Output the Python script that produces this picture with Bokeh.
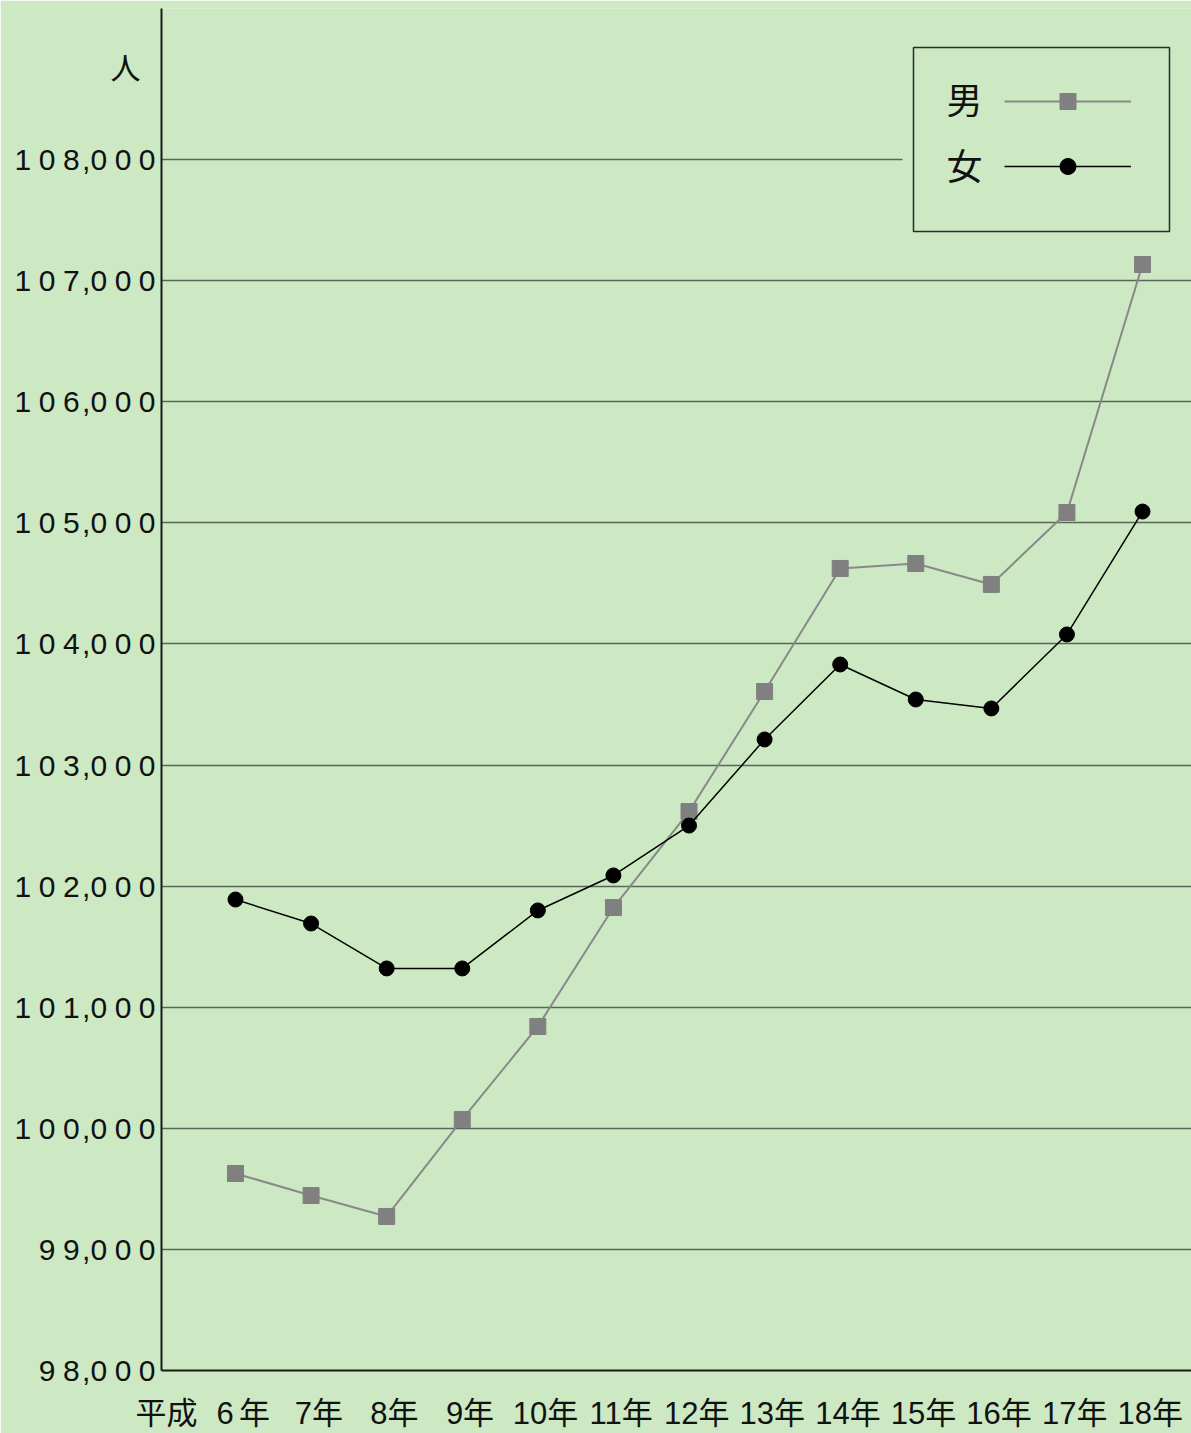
from bokeh.plotting import figure
from bokeh.models import Range1d, FixedTicker, Label, BoxAnnotation, Legend, LegendItem
from bokeh.embed import file_html
from bokeh.resources import INLINE

# ---- data ----
years = [6, 7, 8, 9, 10, 11, 12, 13, 14, 15, 16, 17, 18]
year_labels = ["6 年", "7年", "8年", "9年", "10年", "11年", "12年",
               "13年", "14年", "15年", "16年", "17年", "18年"]
era_label = "平成"
male = [99627, 99445, 99272, 100073, 100841, 101823, 102616,
        103607, 104623, 104664, 104491, 105085, 107133]
female = [101889, 101691, 101320, 101320, 101799, 102088, 102500,
          103211, 103830, 103541, 103467, 104078, 105093]
y_ticks = [98000, 99000, 100000, 101000, 102000, 103000, 104000,
           105000, 106000, 107000, 108000]
y_tick_labels = ["98,000", "99,000", "100,000", "101,000", "102,000", "103,000",
                 "104,000", "105,000", "106,000", "107,000", "108,000"]
unit_label = "人"
series_names = ["男", "女"]

# positions of the unit / era captions (axis coordinates)
UNIT_POS = 108752
ERA_POS = 5.087

BG = "#cce9c4"
NUM_FONT = "'Liberation Sans', 'Noto Sans CJK JP'"
CJK = "'Noto Sans CJK JP'"


def spaced_num(s):
    out = ""
    for i, ch in enumerate(s):
        out += ch
        if i < len(s) - 1:
            nxt = s[i + 1]
            if nxt == ",":
                out += "\u200a"
            elif ch != ",":
                out += "\u2005"
    return out


def spaced_year(s):
    return "\u2002" + s.replace(" ", "\u2006")


W, H = 1191, 1433
p = figure(width=W, height=H, output_backend="svg", toolbar_location=None,
           x_range=Range1d(5.021, 18.648), y_range=Range1d(98000, 109247),
           min_border_left=161, min_border_right=0, min_border_top=8,
           min_border_bottom=63)
p.background_fill_color = BG
p.border_fill_color = BG
p.outline_line_color = None

# axes
y_over = {v: spaced_num(t) for v, t in zip(y_ticks, y_tick_labels)}
y_over[UNIT_POS] = unit_label + "\u2005\u2005"
p.yaxis.ticker = FixedTicker(ticks=y_ticks + [UNIT_POS])
p.yaxis.major_label_overrides = y_over
x_over = {v: spaced_year(t) for v, t in zip(years, year_labels)}
x_over[ERA_POS] = era_label
p.xaxis.ticker = FixedTicker(ticks=[ERA_POS] + years)
p.xaxis.major_label_overrides = x_over
for ax in (p.xaxis, p.yaxis):
    ax.major_tick_out = 0
    ax.major_tick_in = 0
    ax.minor_tick_out = 0
    ax.minor_tick_in = 0
    ax.axis_line_color = "#1a1a1a"
    ax.axis_line_width = 2
    ax.major_label_text_color = "#111111"
    ax.major_label_text_font = NUM_FONT
p.yaxis.major_label_text_font_size = "30px"
p.yaxis.major_label_standoff = 6
p.xaxis.major_label_text_font_size = "31px"
p.xaxis.major_label_standoff = 25

p.xgrid.visible = False
p.ygrid.ticker = FixedTicker(ticks=y_ticks)
p.ygrid.grid_line_color = "#5a6658"
p.ygrid.grid_line_width = 1.3

# series
r_ml = p.line(years, male, line_color="#888888", line_width=2)
r_ms = p.scatter(years, male, marker="square", size=16, fill_color="#808080",
                 line_color="#808080")
r_fl = p.line(years, female, line_color="#000000", line_width=1.5)
r_fs = p.scatter(years, female, marker="circle", size=15, fill_color="#000000",
                 line_color="#000000")

# legend box
cover = BoxAnnotation(left=741, right=1030, bottom=1139, top=1323,
                      left_units="screen", right_units="screen",
                      bottom_units="screen", top_units="screen",
                      fill_color=BG, fill_alpha=1.0, line_color=None)
frame_box = BoxAnnotation(left=752, right=1008, bottom=1139, top=1323,
                          left_units="screen", right_units="screen",
                          bottom_units="screen", top_units="screen",
                          fill_alpha=0.0, line_color="#2a2a2a", line_alpha=1.0,
                          line_width=1.5)
p.add_layout(cover)
p.add_layout(frame_box)

legend = Legend(items=[LegendItem(label=series_names[0], renderers=[r_ml, r_ms]),
                       LegendItem(label=series_names[1], renderers=[r_fl, r_fs])],
                location=(843, 1184), glyph_width=127, glyph_height=40,
                spacing=25, padding=0, margin=0, label_standoff=0,
                label_width=0, label_height=0, label_text_font_size="1px",
                label_text_alpha=0.0, border_line_color=None,
                background_fill_alpha=0.0)
p.add_layout(legend)

for name, ly in zip(series_names, [1273, 1207]):
    p.add_layout(Label(x=803, y=ly, x_units="screen", y_units="screen", text=name,
                       text_font=CJK, text_font_size="36px",
                       text_align="center", text_baseline="middle",
                       text_color="#111111"))

open("out.html", "w").write(file_html(p, INLINE))
